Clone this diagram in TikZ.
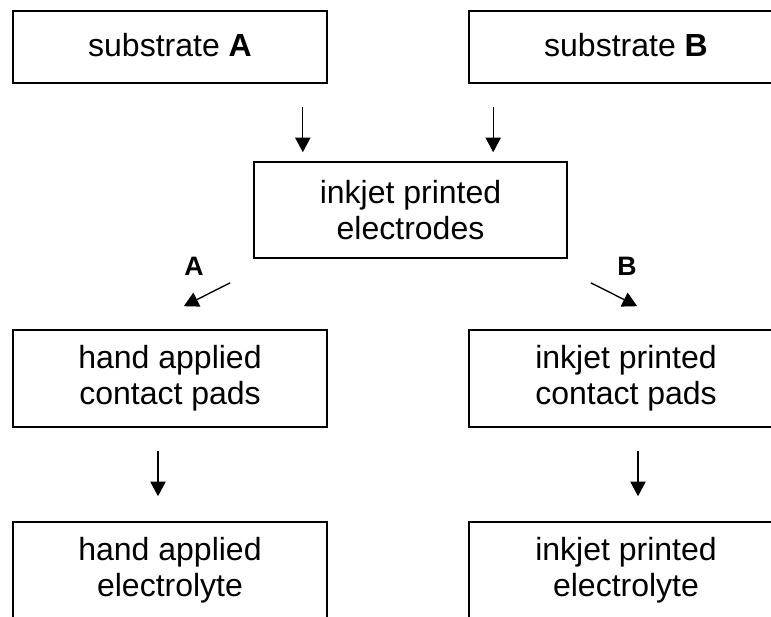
\documentclass[tikz,border=0pt]{standalone}
\usepackage{fontspec}
\setmainfont{Liberation Sans}
\usetikzlibrary{arrows.meta}

\begin{document}
\begin{tikzpicture}[x=0.75pt,y=-0.75pt,font=\fontsize{24}{27}\selectfont,
    box/.style={draw,line width=1.2pt,align=center,minimum width=235.5pt},
    flow/.style={line width=1pt,-{Triangle[length=11pt,width=11.5pt]}},
    lab/.style={font=\fontsize{20}{24}\selectfont\bfseries}]
        \useasboundingbox (0, 0) rectangle (771, 617);
        \node[box,minimum height=54pt,text depth=0.3em] (subA) at (170, 47) {substrate \textbf{A}};
        \node[box,minimum height=54pt,text depth=0.3em] (subB) at (626, 47) {substrate \textbf{B}};
        \node[box,minimum width=234.75pt,minimum height=72pt] (elec) at (410.5, 210) {inkjet printed\\electrodes};
        \node[box,minimum height=72.75pt] (padA) at (170, 378.5) {hand applied\\contact pads};
        \node[box,minimum height=72.75pt] (padB) at (626, 378.5) {inkjet printed\\contact pads};
        \node[box,minimum height=72.75pt] (elyA) at (170, 570.5) {hand applied\\electrolyte};
        \node[box,minimum height=72.75pt] (elyB) at (626, 570.5) {inkjet printed\\electrolyte};
        \node[lab] (labA) at (194, 266) {A};
        \node[lab] (labB) at (627, 266) {B};
        % substrates to electrodes
        \draw[flow,shorten <=17.25pt,shorten >=6.75pt] ([xshift=-18.75pt]subA.south east) to ([xshift=-18.75pt]subA.south east |- elec.north);
        \draw[flow,shorten <=17.25pt,shorten >=6.75pt] ([xshift=18.75pt]subB.south west) to ([xshift=18.75pt]subB.south west |- elec.north);
        % route A and route B
        \draw[flow] ([shift={(-17.25pt,-18pt)}]elec.south west) to ([shift={(-108pt,17.25pt)}]padA.north east);
        \draw[flow] ([shift={(17.25pt,-18pt)}]elec.south east) to ([shift={(126.75pt,17.25pt)}]padB.north west);
        \draw[flow,shorten <=17.25pt,shorten >=18.75pt] ([xshift=-9pt]padA.south) to ([xshift=-9pt]padA.south |- elyA.north);
        \draw[flow,shorten <=17.25pt,shorten >=18.75pt] ([xshift=9pt]padB.south) to ([xshift=9pt]padB.south |- elyB.north);
      \end{tikzpicture}
\end{document}
